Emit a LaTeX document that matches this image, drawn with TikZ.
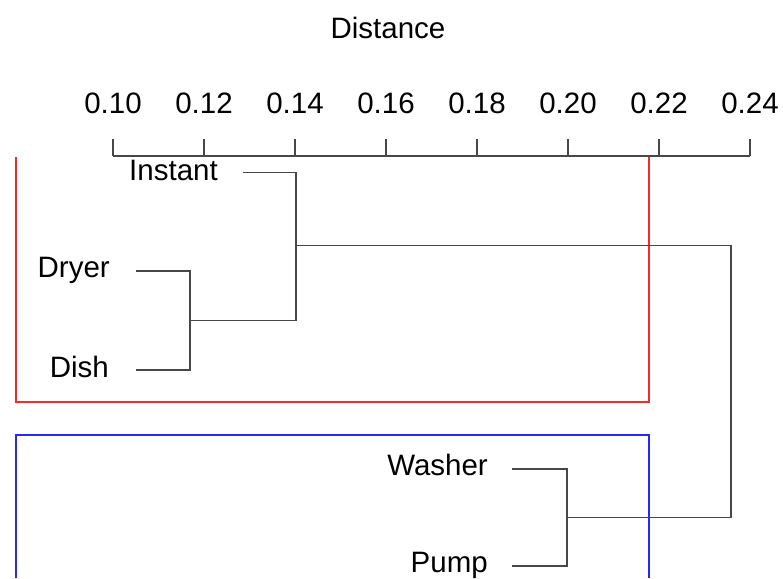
\documentclass[tikz,border=0pt]{standalone}
\usepackage{fontspec}
\setmainfont{Liberation Sans}
\begin{document}
\begin{tikzpicture}[x=1pt,y=-1pt,
  every node/.style={inner sep=0pt, font=\fontsize{29.5}{35}\selectfont},
  leaf/.style={anchor=base east},
  branch/.style={draw=black!72, line width=1.5pt, line join=miter},
  axisline/.style={draw=black!72, line width=1.5pt},
  cluster/.style={line width=1.6pt}]
\useasboundingbox (0,0) rectangle (783,578);

% axis title and scale
\node[anchor=base] (title) at (388,38) {Distance};
\draw[axisline] (113,156) coordinate (axL) -- (750,156) coordinate (axR);
\foreach \v [count=\i from 0] in {0.10,0.12,0.14,0.16,0.18,0.20,0.22,0.24} {
  \coordinate (tk\i) at ({113+\i*91},156);
  \draw[axisline] (tk\i) -- ++(0,-17);
  \node[anchor=base] (tl\i) at ({113+\i*91},113) {\v};
}

% cluster boxes (cut off by the plot region)
\draw[cluster, red!85!white] (16,157) -- (16,402) -- (649,402) -- (649,157);
\draw[cluster, blue!85!white] (16,578) -- (16,435) -- (649,435) -- (649,578);

% leaf labels
\node[leaf] (instant) at (218,180) {Instant};
\node[leaf] (dryer)   at (110,277) {Dryer};
\node[leaf] (dish)    at (109,377) {Dish};
\node[leaf] (washer)  at (488,475) {Washer};
\node[leaf] (pump)    at (488,572) {Pump};

% branch ends next to the labels
\coordinate (eInstant) at (243,172.5);
\coordinate (eDryer)   at (136,271);
\coordinate (eDish)    at (136,370);
\coordinate (eWasher)  at (512,469);
\coordinate (ePump)    at (512,566);

% merge points
\coordinate (m1) at (190,320.5);
\coordinate (m2) at (296,245.5);
\coordinate (m3) at (567,517.5);
\coordinate (root) at (731,245.5);

% dendrogram branches
\draw[branch] (eDryer) -| (m1) |- (eDish);
\draw[branch] (eInstant) -| (m2) |- (m1);
\draw[branch] (eWasher) -| (m3) |- (ePump);
\draw[branch] (m2) -- (root) |- (m3);
\end{tikzpicture}
\end{document}
